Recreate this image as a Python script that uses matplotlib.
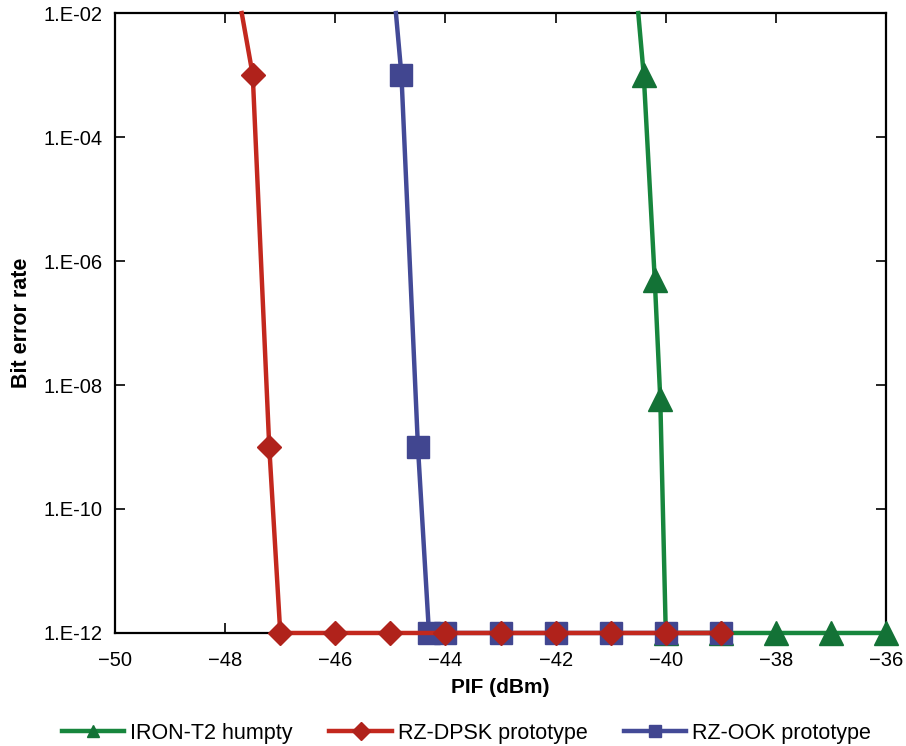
import numpy as np
import matplotlib
matplotlib.use('Agg')
import matplotlib.pyplot as plt

plt.rcParams['font.family'] = ['Liberation Sans', 'DejaVu Sans']

# (first point of each = where the line leaves the top)
iron_x = [-40.5, -40.4, -40.2, -40.1, -40, -39, -38, -37, -36]
iron_y = [1e-2, 1e-3, 5e-7, 6e-9, 1e-12, 1e-12, 1e-12, 1e-12, 1e-12]

dpsk_x = [-47.7, -47.5, -47.2, -47, -46, -45, -44, -43, -42, -41, -40, -39]
dpsk_y = [1e-2, 1e-3, 1e-9] + [1e-12] * 9

ook_x = [-44.9, -44.8, -44.5, -44.3, -44, -43, -42, -41, -40, -39]
ook_y = [1e-2, 1e-3, 1e-9] + [1e-12] * 7

yticks = [1e-2, 1e-4, 1e-6, 1e-8, 1e-10, 1e-12]
ytick_labels = ['1.E-02', '1.E-04', '1.E-06', '1.E-08', '1.E-10', '1.E-12']
xticks = [-50, -48, -46, -44, -42, -40, -38, -36]

fig = plt.figure(figsize=(9.06, 7.46), dpi=100)
ax = fig.add_axes([0.127, 0.1515, 0.851, 0.831])

ax.plot(iron_x, iron_y, color='#17863d', lw=3.2, marker='^', ms=17,
        mfc='#137236', mec='#137236', markevery=slice(1, None), clip_on=False,
        label='IRON-T2 humpty', zorder=3)
ax.plot(dpsk_x, dpsk_y, color='#c3281e', lw=3.2, marker='D', ms=12.5,
        mfc='#b0221b', mec='#b0221b', markevery=slice(1, None), clip_on=False,
        label='RZ-DPSK prototype', zorder=5)
ax.plot(ook_x, ook_y, color='#434a97', lw=3.2, marker='s', ms=16,
        mfc='#414690', mec='#414690', markevery=slice(1, None), clip_on=False,
        label='RZ-OOK prototype', zorder=4)

ax.set_yscale('log')
ax.set_xlim(-50, -36)
ax.set_ylim(1e-12, 1e-2)
ax.set_xticks(xticks)
ax.set_yticks(yticks)
ax.set_yticklabels(ytick_labels)
ax.minorticks_off()
ax.tick_params(direction='in', top=True, right=True, length=7, width=1.2,
               labelsize=14.5)
ax.tick_params(axis='x', pad=13)
ax.tick_params(axis='y', pad=9)
for s in ax.spines.values():
    s.set_linewidth(1.6)

ax.set_xlabel('PIF (dBm)', fontsize=15, fontweight='bold', labelpad=6)
ax.set_ylabel('Bit error rate', fontsize=15.5, fontweight='bold', labelpad=8)

leg = fig.legend(loc='center', bbox_to_anchor=(0.515, 0.017), ncol=3,
                 frameon=False, fontsize=15.5, handlelength=2.9,
                 columnspacing=1.7, handletextpad=0.27)
for h in leg.legend_handles:
    h.set_markersize(9)

fig.savefig('out.png', dpi=100)
